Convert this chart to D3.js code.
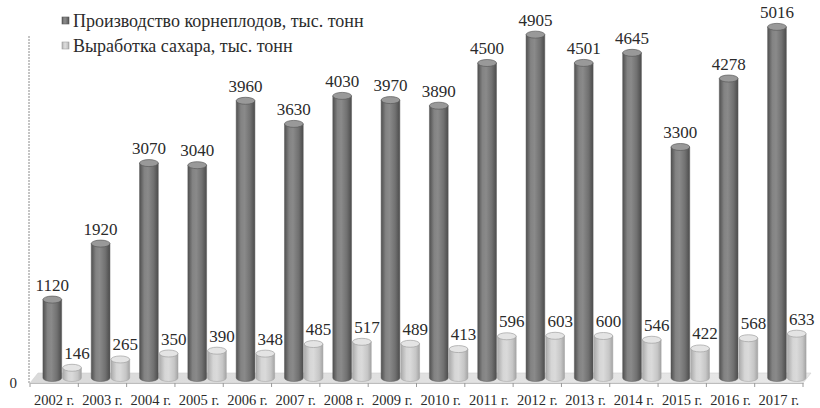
<!DOCTYPE html>
<html>
<head>
<meta charset="utf-8">
<script src="https://cdn.jsdelivr.net/npm/d3@7"></script>
<style>
    body { margin: 0; background: #fff; }
</style>
</head>
<body>
<div id="chart"></div>
<script>
// data
var years = ["2002 г.", "2003 г.", "2004 г.", "2005 г.", "2006 г.", "2007 г.", "2008 г.", "2009 г.",
    "2010 г.", "2011 г.", "2012 г.", "2013 г.", "2014 г.", "2015 г.", "2016 г.", "2017 г."];
var roots = [1120, 1920, 3070, 3040, 3960, 3630, 4030, 3970, 3890, 4500, 4905, 4501, 4645, 3300, 4278, 5016];
var sugar = [146, 265, 350, 390, 348, 485, 517, 489, 413, 596, 603, 600, 546, 422, 568, 633];
var seriesNames = ["Производство корнеплодов, тыс. тонн", "Выработка сахара, тыс. тонн"];
var yTicks = [0];

var width = 820, height = 408;
var depth = {dx: 8, dy: -10};
var fontFam = "Liberation Serif";

var svg = d3.select("#chart").append("svg")
    .attr("width", width)
    .attr("height", height)
    .attr("font-family", fontFam);

var defs = svg.append("defs");

// cylinder gradients
function cylGrad(id, stops) {
    var g = defs.append("linearGradient").attr("id", id)
        .attr("x1", "0%").attr("x2", "100%").attr("y1", "0%").attr("y2", "0%");
    stops.forEach(function (s) {
        g.append("stop").attr("offset", s[0]).attr("stop-color", s[1]);
    });
}
cylGrad("darkBody", [["0%", "#505050"], ["25%", "#838383"], ["45%", "#8a8a8a"], ["75%", "#717171"], ["100%", "#4c4c4c"]]);
cylGrad("lightBody", [["0%", "#aaaaaa"], ["30%", "#d6d6d6"], ["50%", "#dadada"], ["80%", "#c6c6c6"], ["100%", "#a4a4a4"]]);
cylGrad("floorGrad", [["0%", "#dadada"], ["100%", "#e8e8e8"]]);

var series = [
    {name: seriesNames[0], values: roots, body: "url(#darkBody)", top: "#999", rim: "#5a5a5a"},
    {name: seriesNames[1], values: sugar, body: "url(#lightBody)", top: "#e4e4e4", rim: "#a0a0a0"}
];

// scales
var x0 = d3.scaleBand()
    .domain(years)
    .range([30, 803]);

var x1 = d3.scaleBand()
    .domain([0, 1])
    .range([0, x0.bandwidth()])
    .paddingInner(0.05)
    .paddingOuter(0.25);

var baseY = 383;
var y = d3.scaleLinear()
    .domain([0, 5000])
    .range([baseY, baseY - 350]);

// floor
svg.append("path")
    .attr("d", "M" + x0.range()[0] + "," + baseY +
        " L" + x0.range()[1] + "," + baseY +
        " l" + depth.dx + "," + depth.dy +
        " L" + (x0.range()[0] + depth.dx) + "," + (baseY + depth.dy) + " Z")
    .attr("fill", "url(#floorGrad)")
    .attr("stroke", "#d0d0d0")
    .attr("stroke-width", 0.6);

// y axis (dashed line) and 0 label
svg.append("line")
    .attr("x1", 29).attr("x2", 29)
    .attr("y1", baseY).attr("y2", 35)
    .attr("stroke", "#8a8a8a")
    .attr("stroke-width", 1)
    .attr("stroke-dasharray", "2,1");

svg.selectAll(".ylab")
    .data(yTicks)
    .enter().append("text")
    .attr("class", "ylab")
    .attr("x", 17)
    .attr("y", function (d) { return y(d) + 5; })
    .attr("text-anchor", "end")
    .attr("fill", "#2b2b2b")
    .attr("font-size", 15)
    .text(function (d) { return d; });

// x axis
var xAxisCall = d3.axisBottom(x0).tickSize(0).tickPadding(12);
var xAxis = svg.append("g")
    .attr("class", "x-axis")
    .attr("transform", "translate(0," + baseY + ")")
    .call(xAxisCall)
    .attr("font-family", fontFam)
    .attr("font-size", 14.5);
xAxis.select(".domain").attr("stroke", "#bdbdbd");
xAxis.selectAll("text").attr("fill", "#2b2b2b");
// ticks at category boundaries
xAxis.selectAll(".bound")
    .data(years.concat(["end"]))
    .enter().append("line")
    .attr("class", "bound")
    .attr("x1", function (d, i) { return x0.range()[0] + i * x0.step(); })
    .attr("x2", function (d, i) { return x0.range()[0] + i * x0.step(); })
    .attr("y1", 0).attr("y2", 4)
    .attr("stroke", "#9a9a9a");

// cylinders
var r = x1.bandwidth() / 2;
var ry = 3.5;
var bars = svg.append("g");
var baseC = baseY + depth.dy / 2;

years.forEach(function (yr, i) {
    series.forEach(function (s, j) {
        var v = s.values[i];
        var cx = x0(yr) + x1(j) + r + depth.dx;
        var top = baseC - (y(0) - y(v));
        var g = bars.append("g");
        g.append("path")
            .attr("d", "M" + (cx - r) + "," + top +
                " L" + (cx - r) + "," + baseC +
                " A" + r + "," + ry + " 0 0 0 " + (cx + r) + "," + baseC +
                " L" + (cx + r) + "," + top + " Z")
            .attr("fill", s.body)
            .attr("stroke", s.rim)
            .attr("stroke-width", 0.5);
        g.append("ellipse")
            .attr("cx", cx).attr("cy", top)
            .attr("rx", r).attr("ry", ry)
            .attr("fill", s.top)
            .attr("stroke", s.rim)
            .attr("stroke-width", 0.7);
        g.append("text")
            .attr("x", cx + (j == 1 ? 5 : 0))
            .attr("y", top - 9)
            .attr("text-anchor", "middle")
            .attr("fill", "#2b2b2b")
            .attr("font-size", 17)
            .text(v);
    });
});

// legend
var legend = svg.append("g").attr("transform", "translate(62,0)");
series.forEach(function (s, j) {
    var ly = 21 + j * 25;
    legend.append("rect")
        .attr("x", 0).attr("y", ly - 4)
        .attr("width", 7).attr("height", 7)
        .attr("fill", s.body)
        .attr("stroke", s.rim)
        .attr("stroke-width", 0.6);
    legend.append("text")
        .attr("x", 11).attr("y", ly + 6)
        .attr("fill", "#2b2b2b")
        .attr("font-size", 18)
        .text(s.name);
});
</script>
</body>
</html>
